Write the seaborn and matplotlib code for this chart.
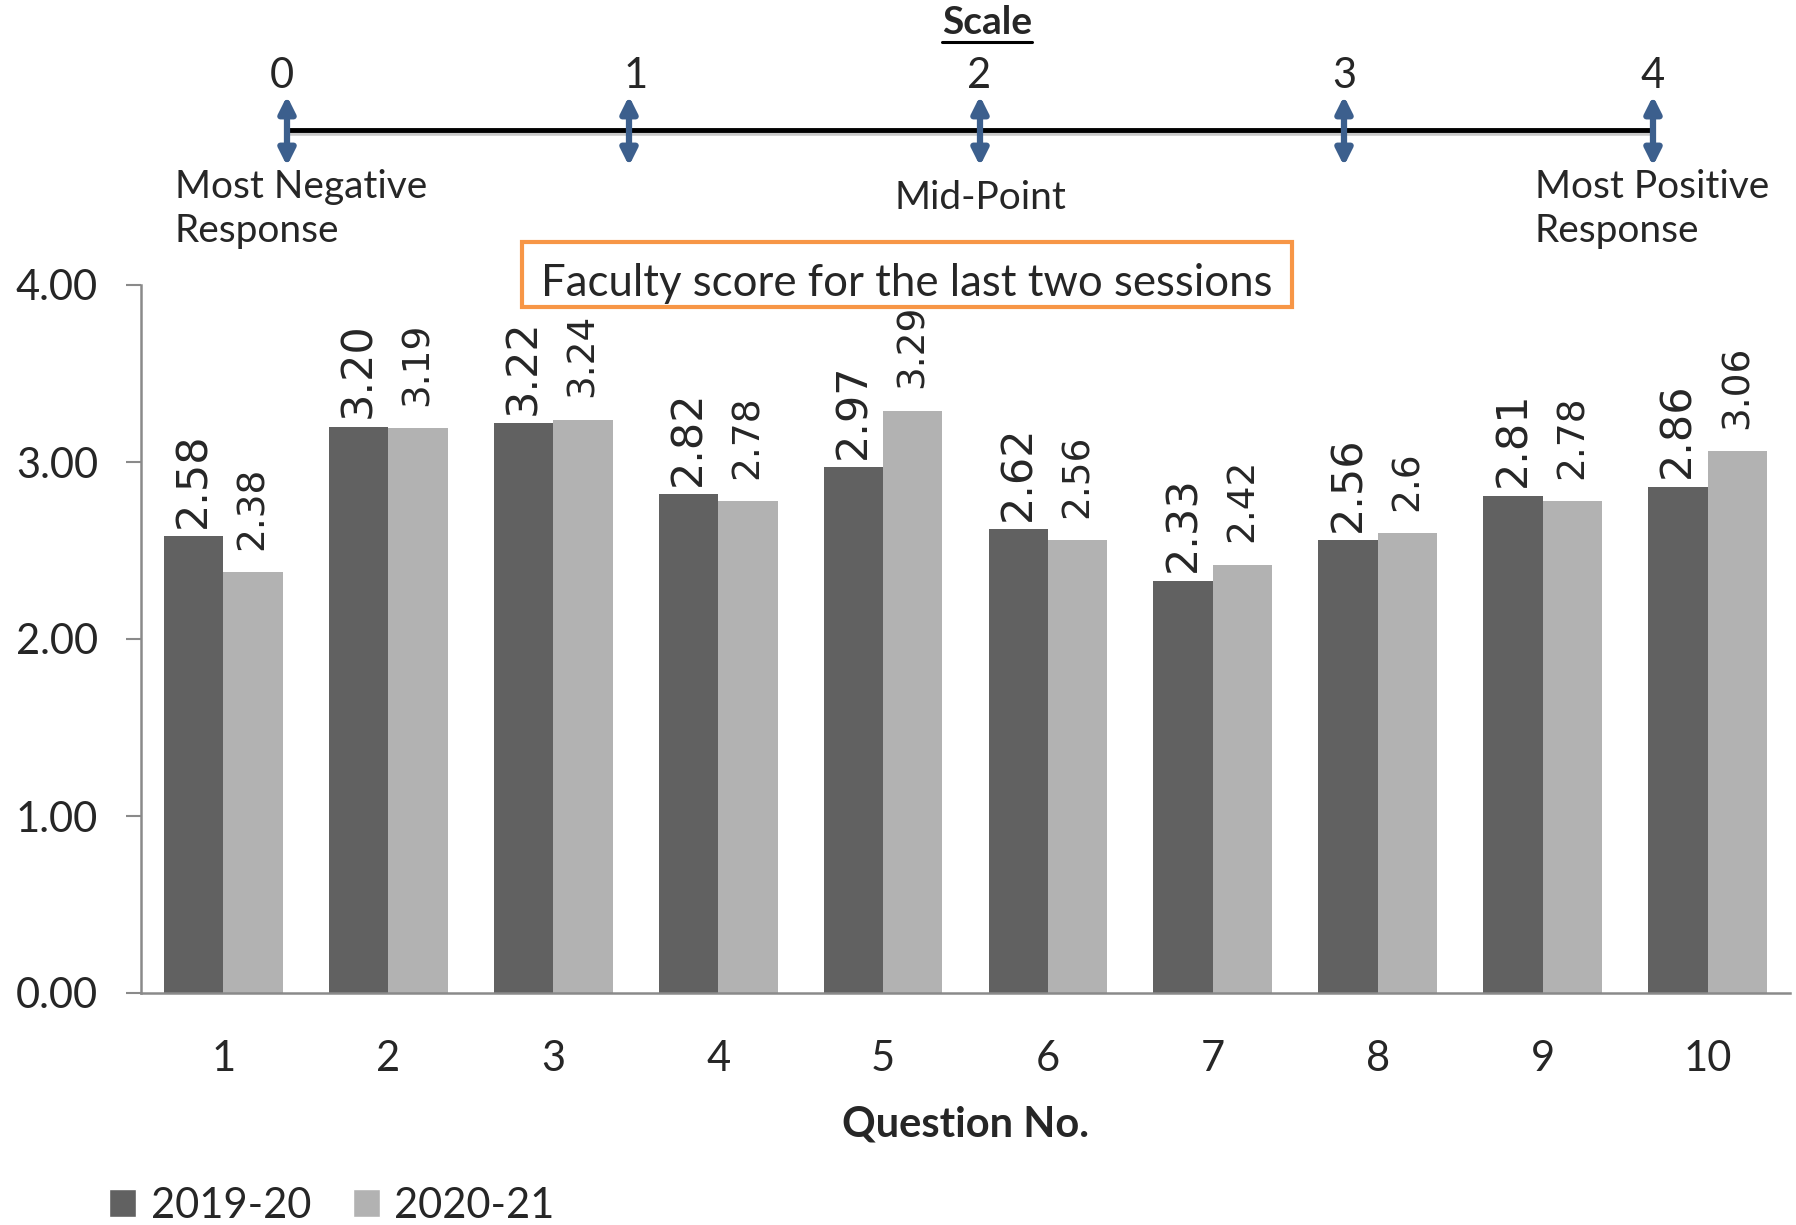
import numpy as np
import pandas as pd
import matplotlib
matplotlib.use("Agg")
import matplotlib.pyplot as plt
from matplotlib.patches import Patch, Rectangle
import seaborn as sns

# data
questions = ["1", "2", "3", "4", "5", "6", "7", "8", "9", "10"]
sessions = ["2019-20", "2020-21"]
score_1920 = [2.58, 3.20, 3.22, 2.82, 2.97, 2.62, 2.33, 2.56, 2.81, 2.86]
score_2021 = [2.38, 3.19, 3.24, 2.78, 3.29, 2.56, 2.42, 2.6, 2.78, 3.06]
y_ticks = [0, 1, 2, 3, 4]

scale_points = ["0", "1", "2", "3", "4"]

df = pd.DataFrame({
    "question": questions * 2,
    "session": [sessions[0]] * len(questions) + [sessions[1]] * len(questions),
    "score": score_1920 + score_2021,
})

sns.set_style("white")
plt.rcParams["font.family"] = ["Lato", "DejaVu Sans"]

dark = "#616161"
light = "#b2b2b2"
spine_col = "#8a8a8a"
blue = "#3c5f8d"
orange = "#f79646"

W, H = 1796, 1225
fig = plt.figure(figsize=(W / 100, H / 100), dpi=100)

ax = fig.add_axes([141 / W, 1 - 993 / H, (1790 - 141) / W, (993 - 285) / H])
sns.barplot(data=df, x="question", y="score", hue="session", order=questions,
            hue_order=sessions, palette=[dark, light], width=0.72,
            saturation=1, linewidth=0, legend=False, ax=ax)

ax.set_ylim(0, 4)
ax.set_yticks(y_ticks)
ax.set_yticklabels([f"{t:.2f}" for t in y_ticks])
ax.set_ylabel("")
ax.set_xlabel("Question No.", fontsize=30, fontweight="bold", labelpad=20)
for s in ["top", "right"]:
    ax.spines[s].set_visible(False)
for s in ["left", "bottom"]:
    ax.spines[s].set_color(spine_col)
    ax.spines[s].set_linewidth(1.8)
ax.tick_params(axis="y", labelsize=30, length=11, width=1.5, color=spine_col, pad=20, left=True)
ax.tick_params(axis="x", labelsize=30, length=0, pad=34)

# value labels
for cont, lab_size, pad in zip(ax.containers, [31, 27], [6, 16]):
    labels = []
    for v in cont.datavalues:
        labels.append(f"{v:.2f}" if lab_size == 31 else f"{v:g}")
    ax.bar_label(cont, labels=labels, rotation=90, padding=pad,
                 fontsize=lab_size, family="DejaVu Sans")

# header overlay in pixel coordinates, drawn above the bar axes
ov = fig.add_axes([0, 0, 1, 1])
ov.set_xlim(0, W)
ov.set_ylim(H, 0)
ov.axis("off")
ov.patch.set_alpha(0)
ov.set_zorder(5)

t = ov.text(987, 23, "Scale", fontsize=28, fontweight="bold", ha="center", va="center")
fig.canvas.draw()
bb = t.get_window_extent()
ov.plot([bb.x0, bb.x1], [42, 42], color="black", lw=2.2)

ov.plot([287, 1652], [133, 133], color="#c8c8c8", lw=4, solid_capstyle="butt")
ov.plot([287, 1650], [130, 130], color="black", lw=3.5, solid_capstyle="butt")

num_x = [282, 636, 979, 1344, 1653]
arrow_x = [287, 629, 980, 1344, 1653]
for lab, nx, axx in zip(scale_points, num_x, arrow_x):
    ov.text(nx, 76, lab, fontsize=30, ha="center", va="center")
    ov.annotate("", xy=(axx, 96), xytext=(axx, 166),
                arrowprops=dict(arrowstyle="<|-|>", color=blue, lw=4.5,
                                mutation_scale=24, shrinkA=0, shrinkB=0))

ov.text(175, 209, "Most Negative\nResponse", fontsize=28, ha="left", va="center", linespacing=1.25)
ov.text(980, 198, "Mid-Point", fontsize=28, ha="center", va="center")
ov.text(1535, 209, "Most Positive\nResponse", fontsize=28, ha="left", va="center", linespacing=1.25)

ov.add_patch(Rectangle((522, 242), 770, 65, facecolor="white", edgecolor=orange, lw=3))
ov.text(907, 283, "Faculty score for the last two sessions", fontsize=31.5, ha="center", va="center")

handles = [Patch(facecolor=dark, label=sessions[0]), Patch(facecolor=light, label=sessions[1])]
fig.legend(handles=handles, loc="center left", bbox_to_anchor=(109 / W, 1 - 1206 / H),
           ncol=2, frameon=False, fontsize=30, handlelength=0.65, handleheight=0.65,
           handletextpad=0.35, columnspacing=1.0, borderpad=0, borderaxespad=0)

fig.savefig("out.png", dpi=100)
